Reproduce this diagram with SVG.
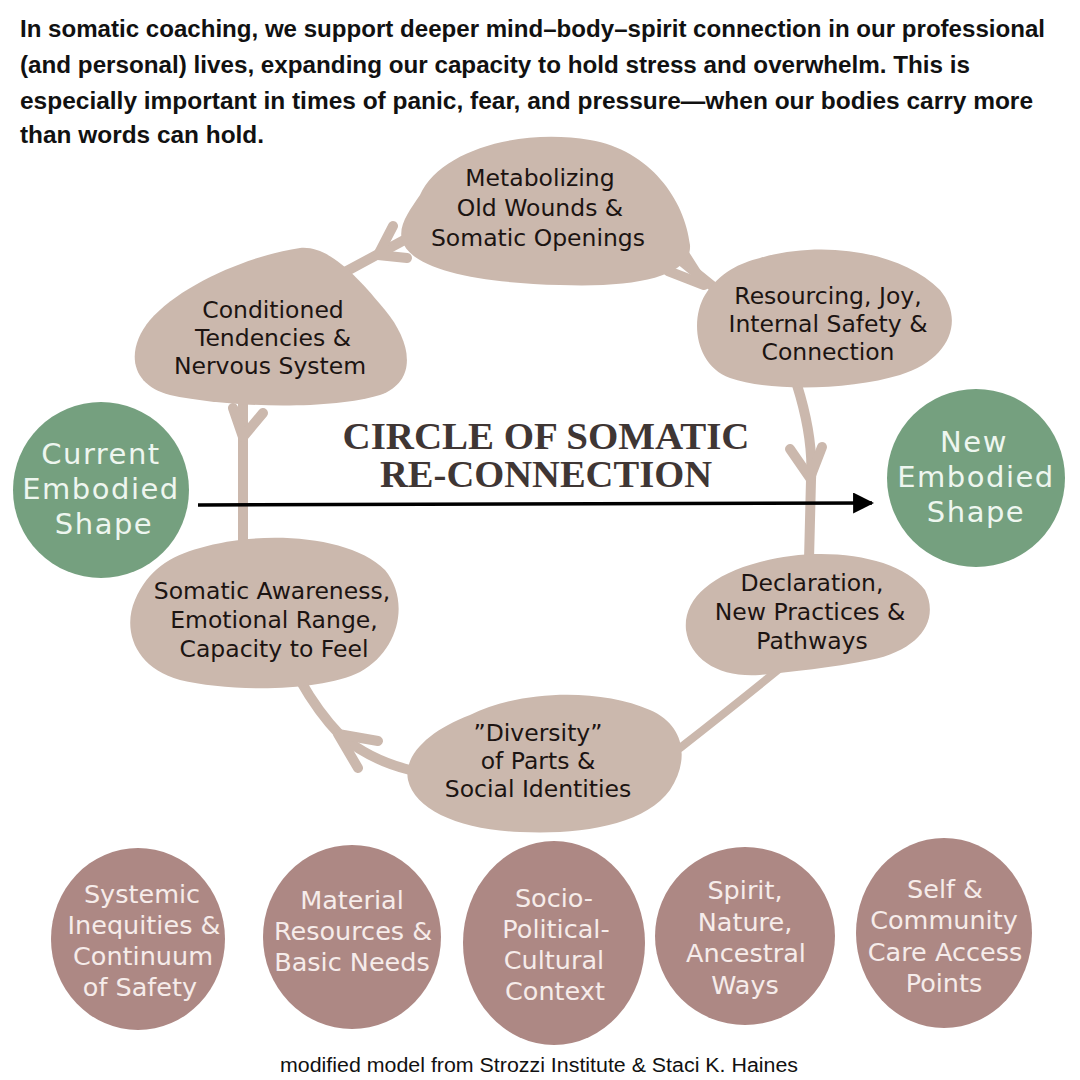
<svg xmlns="http://www.w3.org/2000/svg" width="1080" height="1080" viewBox="0 0 1080 1080">
<defs>
<style>
.head{font-family:"Liberation Sans",Arial,sans-serif;font-weight:bold;font-size:23px;fill:#111;}
.blob{fill:#cbb8ad;}
.lbl{font-family:"DejaVu Sans","Noto Sans",sans-serif;font-size:23.5px;fill:#1c1412;text-anchor:middle;}
.green{fill:#75a07f;}
.gl{font-family:"DejaVu Sans","Noto Sans",sans-serif;font-size:29px;fill:#eef6ef;text-anchor:middle;letter-spacing:1.5px;}
.mauve{fill:#ad8884;}
.ml{font-family:"DejaVu Sans","Noto Sans",sans-serif;font-size:25.5px;fill:#f6ecea;text-anchor:middle;}
.title{font-family:"Liberation Serif","Times New Roman",serif;font-weight:bold;font-size:38px;fill:#3f3634;text-anchor:middle;}
.con{fill:none;stroke:#cbb8ad;stroke-width:10;stroke-linecap:round;stroke-linejoin:round;}
.foot{font-family:"Liberation Sans",Arial,sans-serif;font-size:20px;fill:#111;text-anchor:middle;}
</style>
<marker id="ah" viewBox="0 0 10 10" refX="9" refY="5" markerWidth="6" markerHeight="6" orient="auto" markerUnits="strokeWidth">
<path d="M0,0 L10,5 L0,10 Z" fill="#000"/>
</marker>
</defs>
<rect width="1080" height="1080" fill="#fff"/>

<g id="header">
<text class="head" x="20" y="37" textLength="1025" lengthAdjust="spacingAndGlyphs">In somatic coaching, we support deeper mind–body–spirit connection in our professional</text>
<text class="head" x="20" y="73" textLength="950" lengthAdjust="spacingAndGlyphs">(and personal) lives, expanding our capacity to hold stress and overwhelm. This is</text>
<text class="head" x="20" y="109" textLength="1013" lengthAdjust="spacingAndGlyphs">especially important in times of panic, fear, and pressure—when our bodies carry more</text>
<text class="head" x="20" y="143" textLength="244" lengthAdjust="spacingAndGlyphs">than words can hold.</text>
</g>

<g id="connectors">
<path class="con" d="M408,238 L345,272"/>
<path class="con" d="M378,255 L393,226 M378,255 L407,258"/>
<path class="con" d="M668,250 L722,294"/>
<path class="con" d="M704,285 L668,271 M704,285 L683,252"/>
<path class="con" d="M797,385 C808,420 813,450 811,480 L809,560"/>
<path class="con" d="M810,478 L790,449 M810,478 L822,447"/>
<path class="con" d="M778,670 Q735,705 680,748" style="stroke-width:8"/>
<path class="con" d="M300,680 Q318,712 340,735 Q370,760 410,770"/>
<path class="con" d="M338,734 L358,768 M338,734 L378,741"/>
<path class="con" d="M243,400 L243,545"/>
<path class="con" d="M243,437 L233,408 M243,437 L263,413"/>
<line x1="198" y1="505" x2="872" y2="503" stroke="#000" stroke-width="3.5" marker-end="url(#ah)"/>
</g>

<g id="n-metabolizing">
<path class="blob" d="M420,195 C440,150 520,128 590,140 C650,150 685,200 690,245 C692,275 640,288 560,285 C480,283 410,270 402,240 C398,225 410,210 420,195 Z"/>
<text class="lbl" x="540" y="186">Metabolizing</text>
<text class="lbl" x="540" y="216">Old Wounds &amp;</text>
<text class="lbl" x="538" y="246">Somatic Openings</text>
</g>

<g id="n-conditioned">
<path class="blob" d="M300,248 C330,245 360,280 385,310 C410,340 420,380 380,395 C330,410 230,408 170,395 C130,385 125,350 150,320 C180,285 250,255 300,248 Z"/>
<text class="lbl" x="273" y="318">Conditioned</text>
<text class="lbl" x="273" y="346">Tendencies &amp;</text>
<text class="lbl" x="270" y="374">Nervous System</text>
</g>

<g id="n-resourcing">
<path class="blob" d="M760,258 C820,240 900,250 940,290 C965,320 950,360 900,375 C850,390 770,392 730,378 C695,365 690,320 705,295 C720,272 740,263 760,258 Z"/>
<text class="lbl" x="828" y="304">Resourcing, Joy,</text>
<text class="lbl" x="828" y="332">Internal Safety &amp;</text>
<text class="lbl" x="828" y="360">Connection</text>
</g>

<g id="n-declaration">
<path class="blob" d="M760,562 C820,545 900,555 925,590 C940,620 920,650 870,660 C830,668 790,672 760,675 C720,678 690,660 686,630 C683,600 710,575 760,562 Z"/>
<text class="lbl" x="812" y="591">Declaration,</text>
<text class="lbl" x="810" y="620">New Practices &amp;</text>
<text class="lbl" x="812" y="649">Pathways</text>
</g>

<g id="n-diversity">
<path class="blob" d="M470,715 C520,690 600,688 650,710 C685,725 690,760 670,790 C645,825 580,835 520,832 C460,830 415,810 408,780 C403,755 430,730 470,715 Z"/>
<text class="lbl" x="538" y="741">”Diversity”</text>
<text class="lbl" x="538" y="769">of Parts &amp;</text>
<text class="lbl" x="538" y="797">Social Identities</text>
</g>

<g id="n-somatic">
<path class="blob" d="M200,548 C260,530 350,535 385,570 C410,600 400,650 360,672 C320,692 230,692 180,680 C135,668 122,630 135,600 C148,570 170,556 200,548 Z"/>
<text class="lbl" x="272" y="599">Somatic Awareness,</text>
<text class="lbl" x="274" y="628">Emotional Range,</text>
<text class="lbl" x="274" y="657">Capacity to Feel</text>
</g>

<g id="title">
<text class="title" x="546" y="449" textLength="407" lengthAdjust="spacingAndGlyphs">CIRCLE OF SOMATIC</text>
<text class="title" x="546" y="487" textLength="332" lengthAdjust="spacingAndGlyphs">RE-CONNECTION</text>
</g>

<g id="n-current">
<circle class="green" cx="101" cy="490" r="88"/>
<text class="gl" x="101" y="464">Current</text>
<text class="gl" x="101" y="499">Embodied</text>
<text class="gl" x="104" y="534">Shape</text>
</g>

<g id="n-new">
<circle class="green" cx="976" cy="478" r="89"/>
<text class="gl" x="974" y="452">New</text>
<text class="gl" x="976" y="487">Embodied</text>
<text class="gl" x="976" y="522">Shape</text>
</g>

<g id="n-systemic">
<ellipse class="mauve" cx="138" cy="939" rx="87" ry="91"/>
<text class="ml" x="142" y="903">Systemic</text>
<text class="ml" x="144" y="934">Inequities &amp;</text>
<text class="ml" x="143" y="965">Continuum</text>
<text class="ml" x="140" y="996">of Safety</text>
</g>

<g id="n-material">
<ellipse class="mauve" cx="352" cy="937" rx="89" ry="92"/>
<text class="ml" x="352" y="909">Material</text>
<text class="ml" x="353" y="940">Resources &amp;</text>
<text class="ml" x="352" y="971">Basic Needs</text>
</g>

<g id="n-socio">
<ellipse class="mauve" cx="554" cy="943" rx="91" ry="102"/>
<text class="ml" x="554" y="907">Socio-</text>
<text class="ml" x="556" y="938">Political-</text>
<text class="ml" x="554" y="969">Cultural</text>
<text class="ml" x="555" y="1000">Context</text>
</g>

<g id="n-spirit">
<ellipse class="mauve" cx="745" cy="936" rx="90" ry="89"/>
<text class="ml" x="745" y="899">Spirit,</text>
<text class="ml" x="745" y="931">Nature,</text>
<text class="ml" x="746" y="962">Ancestral</text>
<text class="ml" x="745" y="994">Ways</text>
</g>

<g id="n-self">
<ellipse class="mauve" cx="944" cy="933" rx="88" ry="95"/>
<text class="ml" x="945" y="898">Self &amp;</text>
<text class="ml" x="944" y="929">Community</text>
<text class="ml" x="945" y="961">Care Access</text>
<text class="ml" x="944" y="992">Points</text>
</g>

<g id="footer">
<text class="foot" x="539" y="1072" textLength="518" lengthAdjust="spacingAndGlyphs">modified model from Strozzi Institute &amp; Staci K. Haines</text>
</g>
</svg>
